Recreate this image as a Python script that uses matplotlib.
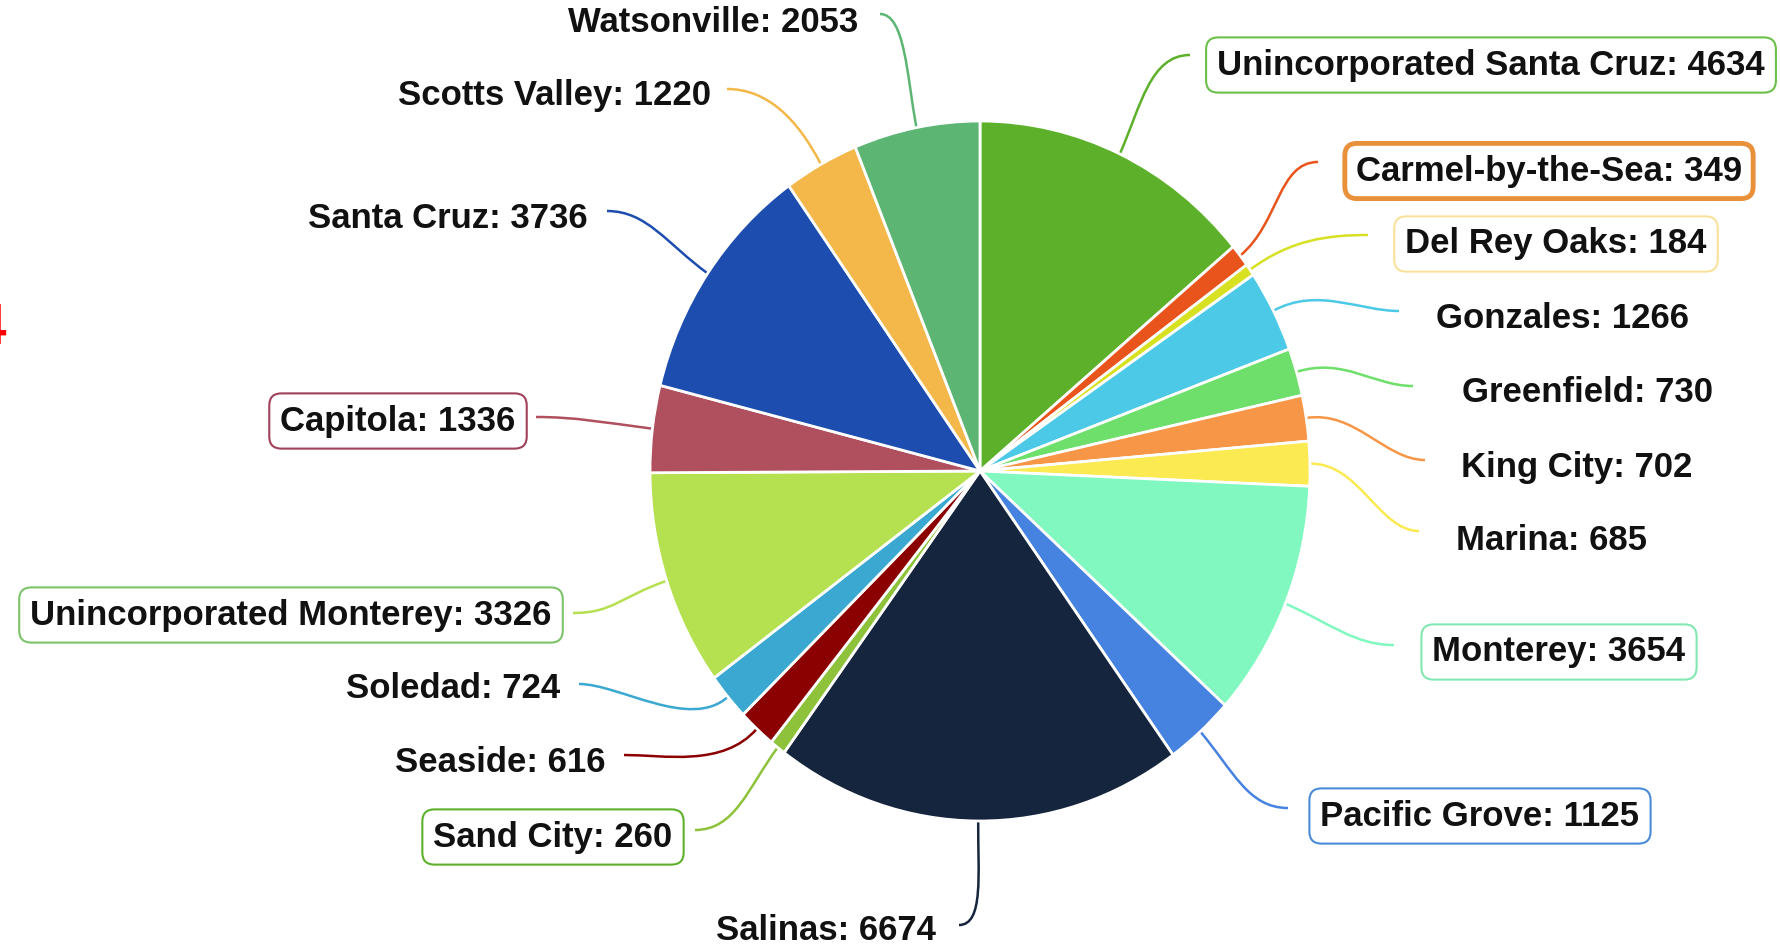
import numpy as np
import matplotlib.pyplot as plt
from matplotlib.path import Path
from matplotlib.patches import PathPatch

# Dados (ordem horaria a partir do topo)
cidades = ['Unincorporated Santa Cruz', 'Carmel-by-the-Sea', 'Del Rey Oaks', 'Gonzales',
           'Greenfield', 'King City', 'Marina', 'Monterey', 'Pacific Grove', 'Salinas',
           'Sand City', 'Seaside', 'Soledad', 'Unincorporated Monterey', 'Capitola',
           'Santa Cruz', 'Scotts Valley', 'Watsonville']
valores = [4634, 349, 184, 1266, 730, 702, 685, 3654, 1125, 6674,
           260, 616, 724, 3326, 1336, 3736, 1220, 2053]
cores = ['#5DB12A', '#E8541C', '#D7E021', '#4CC9E6', '#6EDF6A', '#F79646', '#FBEA52',
         '#80F8C0', '#4682E0', '#14253D', '#8DC23A', '#8B0000', '#3AA8D0', '#B5E050',
         '#B0505F', '#1E4DB0', '#F4B84A', '#5DB574']
# cor da borda da caixa do rotulo (None = sem caixa)
caixas = ['#6CBF4A', '#E8913A', '#FBE29A', None, None, None, None, '#80E8B0', '#4A8BD8',
          None, '#5DB12A', None, None, '#7CC36A', '#A0405A', None, None, None]

# posicoes dos rotulos (pixels) e ponto de chegada da linha
rot_x = [1491, 1549, 1556, 1563, 1588, 1577, 1552, 1559, 1480, 826, 553, 500, 453, 291, 398, 448, 554, 713]
rot_y = [65, 171, 244, 319, 393, 467, 540, 652, 816, 931, 837, 763, 688, 615, 421, 219, 96, 22]
fim_x = [1190, 1318, 1368, 1399, 1413, 1425, 1419, 1394, 1288, 959, 695, 624, 579, 573, 536, 607, 727, 880]
fim_y = [55, 162, 235, 311, 386, 460, 531, 645, 808, 925, 830, 755, 684, 613, 417, 211, 89, 14]
lado = [-1, -1, -1, -1, -1, -1, -1, -1, -1, 1, 1, 1, 1, 1, 1, 1, 1, 1]

W, H = 1780, 950
cx, cy, rx, ry = 980, 471, 330, 350

fig = plt.figure(figsize=(W / 100, H / 100), dpi=100)
ax = fig.add_axes([0, 0, 1, 1])
ax.set_xlim(0, W)
ax.set_ylim(H, 0)
ax.axis('off')

ax_pizza = fig.add_axes([(cx - rx) / W, 1 - (cy + ry) / H, 2 * rx / W, 2 * ry / H])
fatias, _ = ax_pizza.pie(valores, colors=cores, startangle=90, counterclock=False,
                         wedgeprops=dict(edgecolor='white', linewidth=2))
ax_pizza.set_xlim(-1, 1)
ax_pizza.set_ylim(-1, 1)
ax_pizza.set_aspect('auto')
ax_pizza.axis('off')

para_ax = ax.transData.inverted()
for i, w in enumerate(fatias):
    meio = np.deg2rad((w.theta1 + w.theta2) / 2)
    p = ax_pizza.transData.transform([(np.cos(meio), np.sin(meio)),
                                      (1.15 * np.cos(meio), 1.15 * np.sin(meio))])
    p0, p1 = para_ax.transform(p)
    p3 = (fim_x[i], fim_y[i])
    p2 = (fim_x[i] + lado[i] * 40, fim_y[i])
    if cidades[i] in ('Salinas', 'Watsonville'):
        p2 = (fim_x[i] + 25, fim_y[i])
    caminho = Path([p0, p1, p2, p3], [Path.MOVETO, Path.CURVE4, Path.CURVE4, Path.CURVE4])
    ax.add_patch(PathPatch(caminho, fc='none', ec=cores[i], lw=1.8))

    texto = f'{cidades[i]}: {valores[i]}'
    caixa = None
    if caixas[i] is not None:
        lw = 3.5 if cidades[i] == 'Carmel-by-the-Sea' else 1.5
        caixa = dict(boxstyle='round,pad=0.32,rounding_size=0.35', fc='white', ec=caixas[i], lw=lw)
    ax.text(rot_x[i], rot_y[i], texto, ha='center', va='center', fontsize=25,
            fontweight='bold', family='Liberation Sans', color='#111111', bbox=caixa)

# pedaco vermelho cortado na borda esquerda
ax.text(-27, 344, '4', ha='left', va='baseline', fontsize=42, fontweight='bold',
        family='Liberation Sans', color='red')

fig.savefig('out.png', dpi=100)
